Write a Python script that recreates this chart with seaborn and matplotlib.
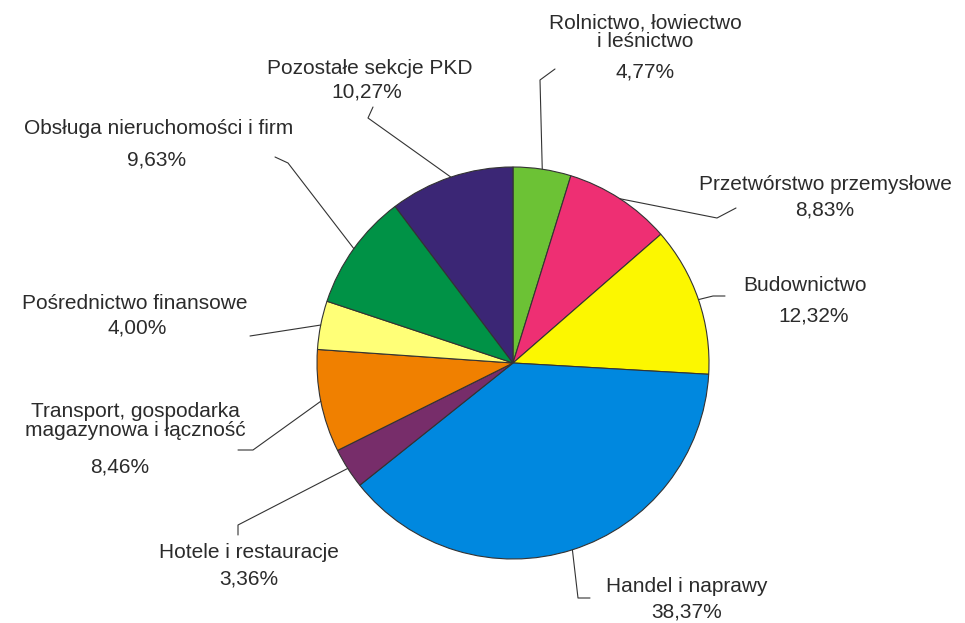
import numpy as np
import seaborn as sns
import matplotlib.pyplot as plt

sectors = [
    "Rolnictwo, łowiectwo\ni leśnictwo",
    "Przetwórstwo przemysłowe",
    "Budownictwo",
    "Handel i naprawy",
    "Hotele i restauracje",
    "Transport, gospodarka\nmagazynowa i łączność",
    "Pośrednictwo finansowe",
    "Obsługa nieruchomości i firm",
    "Pozostałe sekcje PKD",
]
shares = [4.77, 8.83, 12.32, 38.37, 3.36, 8.46, 4.00, 9.63, 10.27]
share_labels = ["4,77%", "8,83%", "12,32%", "38,37%", "3,36%", "8,46%", "4,00%", "9,63%", "10,27%"]
colors = ["#6cc235", "#ee2f73", "#fcf700", "#0088df", "#772d6a",
          "#f08000", "#ffff77", "#009246", "#3b2675"]

sns.set_theme(style="white")
plt.rcParams["font.family"] = ["Liberation Sans", "DejaVu Sans"]

W, H = 965, 623
CX, CY, R = 513, 363, 196


def px(x, y):
    # pixel position -> data units (pie centre at 0,0, radius 1)
    return (x - CX) / R, (CY - y) / R


fig = plt.figure(figsize=(W / 100, H / 100), dpi=100)
ax = fig.add_axes([0, 0, 1, 1])
wedges, _ = ax.pie(shares, colors=colors, startangle=90, counterclock=False,
                   radius=1, wedgeprops=dict(edgecolor="#333333", linewidth=0.8))
ax.set_xlim(-CX / R, (W - CX) / R)
ax.set_ylim((CY - H) / R, CY / R)
ax.set_aspect("equal")
ax.axis("off")

# label layout: (name centre, percent centre, leader elbow points) in pixels
layout = [
    ((645, 32), (645, 72), [(540, 80), (555, 69)]),
    ((825, 184), (825, 210), [(717, 218), (736, 208)]),
    ((805, 285), (814, 316), [(713, 296), (725, 296)]),
    ((687, 586), (687, 612), [(578, 598), (590, 598)]),
    ((249, 553), (249, 579), [(238, 525), (238, 535)]),
    ((135, 421), (120, 467), [(253, 450), (238, 450)]),
    ((135, 303), (137, 328), [(250, 336)]),
    ((159, 128), (157, 160), [(288, 163), (275, 157)]),
    ((370, 68), (367, 92), [(368, 118), (373, 107)]),
]

text_color = "#2b2b2b"
for w, name, pct, (name_xy, pct_xy, elbows) in zip(wedges, sectors, share_labels, layout):
    mid = np.deg2rad((w.theta1 + w.theta2) / 2)
    xs = [np.cos(mid)] + [px(*e)[0] for e in elbows]
    ys = [np.sin(mid)] + [px(*e)[1] for e in elbows]
    ax.plot(xs, ys, color="#333333", linewidth=0.8)
    ax.text(*px(*name_xy), name, ha="center", va="center", fontsize=15,
            color=text_color, linespacing=0.95)
    ax.text(*px(*pct_xy), pct, ha="center", va="center", fontsize=15,
            color=text_color)

fig.savefig("out.png", dpi=100, facecolor="white")
